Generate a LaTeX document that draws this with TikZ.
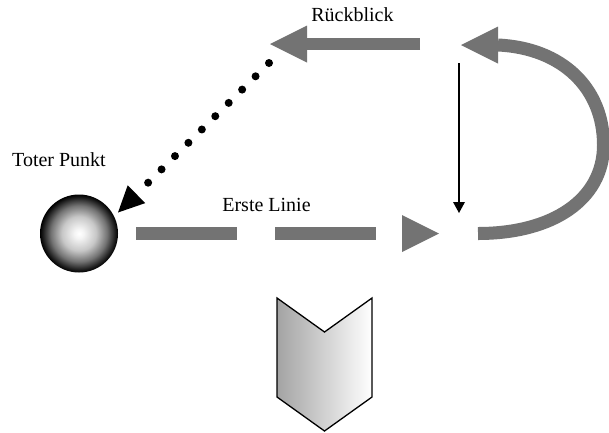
\documentclass[tikz,border=0pt]{standalone}
\usepackage{fontspec}
\setmainfont{Liberation Serif}
\usetikzlibrary{arrows.meta}
\definecolor{arrgray}{gray}{0.45}
\definecolor{chevleft}{gray}{0.64}
\definecolor{sphA}{gray}{0.96}
\definecolor{sphB}{gray}{0.78}
\definecolor{sphC}{gray}{0.45}
\definecolor{sphD}{gray}{0.12}
\pgfdeclareradialshading{spheresh}{\pgfpoint{0bp}{0bp}}{%
  color(0bp)=(white); color(3bp)=(sphA); color(11bp)=(sphB);
  color(18bp)=(sphC); color(23bp)=(sphD); color(25bp)=(black); color(50bp)=(black)}
\tikzset{
  lbl/.style={inner sep=0pt, anchor=base, font=\fontsize{20}{24}\selectfont},
  fatarrow/.style={draw=arrgray, line width=12.5pt,
    -{Triangle[length=37pt,width=37pt,line width=0pt]}},
  dotarrow/.style={draw=black, line width=8pt, line cap=round,
    dash pattern=on 0pt off 18.9pt,
    -{Triangle[length=26pt,width=25pt,line width=0pt]}},
  thinarrow/.style={draw=black, line width=1.3pt,
    -{Triangle[length=11pt,width=12pt,line width=0pt]}},
  sphere/.style={circle, minimum size=78pt, inner sep=0pt, shading=spheresh},
  chevron/.style={draw=black, line width=1.3pt, line join=miter,
    left color=chevleft, right color=white}
}
\begin{document}
\begin{tikzpicture}[x=1pt,y=-1pt]
\useasboundingbox (0,0) rectangle (609,432);
% sphere and labels
\node[sphere] (tp) at (79,233.5) {};
\node[lbl] (tpl) at (59,166) {Toter Punkt};
\node[lbl] (rbl) at (352.5,21.5) {Rückblick};
\node[lbl] (ell) at (266.5,211) {Erste Linie};
% connector end points
\coordinate (rbs) at (420,44);
\coordinate (rbe) at (270,44);
\coordinate (els) at (136,233.5);
\coordinate (ele) at (439,233.5);
\coordinate (dts) at (269,63);
\coordinate (dte) at (118,212.5);
\coordinate (ths) at (459,63);
\coordinate (the) at (459,213);
\coordinate (cvs) at (478,233.5);
\coordinate (cvm) at (603.5,145);
\coordinate (cvb) at (498,45);
\coordinate (cve) at (461,45);
% arrows
\draw[fatarrow] (rbs) -- (rbe);
\draw[fatarrow, dash pattern=on 101pt off 38pt] (els) -- (ele);
\draw[dotarrow] (dts) -- (dte);
\draw[thinarrow] (ths) -- (the);
\draw[fatarrow, line width=13pt] (cvs) .. controls (552,233.5) and (603.5,200) .. (cvm)
  .. controls (603.5,88) and (562,48) .. (cvb) -- (cve);
% chevron
\path[chevron] (277,298) -- (324.5,332) -- (372,298) -- (372,397)
  -- (324.5,431) -- (277,397) -- cycle;
\end{tikzpicture}
\end{document}
